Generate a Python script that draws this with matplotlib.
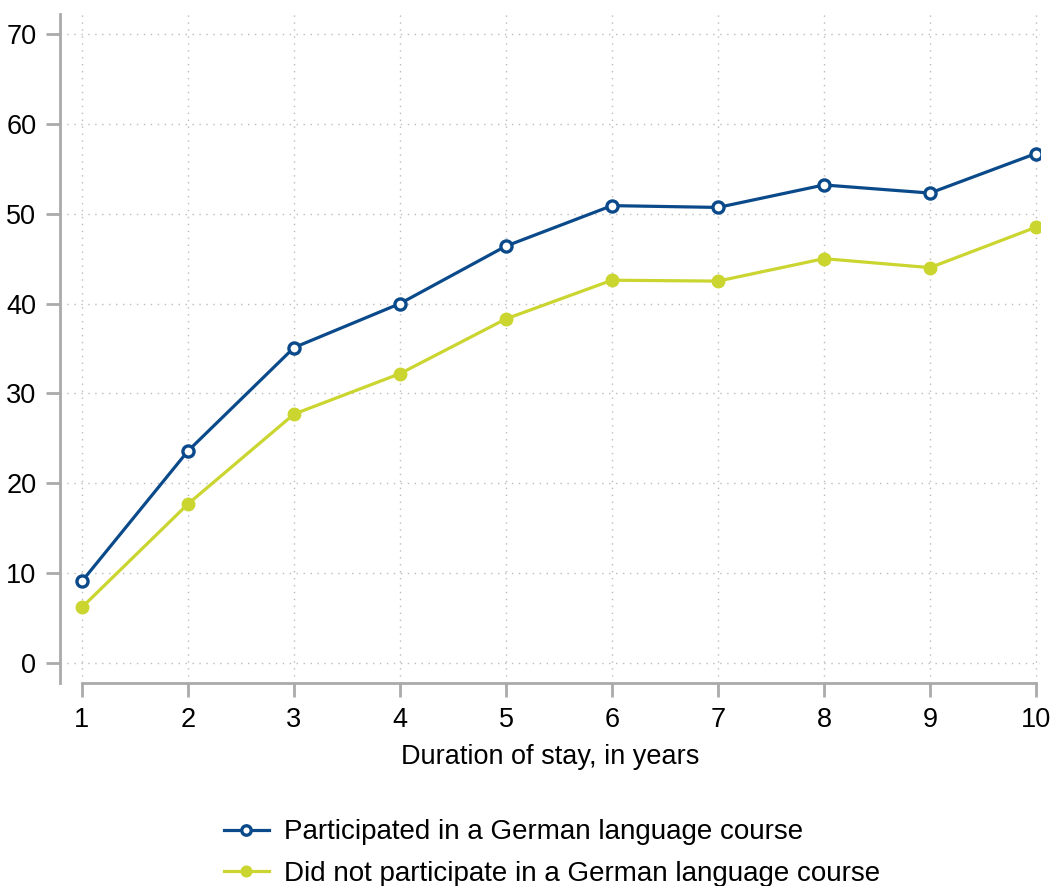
import matplotlib as mpl
mpl.use('Agg')
import matplotlib.pyplot as plt

plt.rcParams['font.family'] = ['Liberation Sans', 'DejaVu Sans']

years = [1, 2, 3, 4, 5, 6, 7, 8, 9, 10]
participated = [9.1, 23.6, 35.1, 40.0, 46.4, 50.9, 50.7, 53.2, 52.3, 56.7]
not_participated = [6.2, 17.7, 27.7, 32.2, 38.3, 42.6, 42.5, 45.0, 44.0, 48.5]
yticks = [0, 10, 20, 30, 40, 50, 60, 70]

blue = '#0a4a8a'
green = '#cbd52f'
gray = '#aaaaaa'

fig = plt.figure(figsize=(10.54, 8.86), dpi=100)
ax = fig.add_axes([60/1054, 1 - 683/886, (1040-60)/1054, (683-14)/886])

ax.plot(years, participated, color=blue, lw=2.3, marker='o', ms=8,
        mfc='white', mec=blue, mew=2.4, label='Participated in a German language course')
ax.plot(years, not_participated, color=green, lw=2.3, marker='o', ms=9,
        mfc=green, mec=green, label='Did not participate in a German language course')

ax.set_xlim(1 - 22/106, 10 + 4/106)
ax.set_ylim(-20/8.986, 70 + 20/8.986)
ax.set_xticks(years)
ax.set_yticks(yticks)

ax.grid(True, color='#bbbbbb', linestyle=(0, (1, 4)), linewidth=1)
for s in ['top', 'right']:
    ax.spines[s].set_visible(False)
for s in ['left', 'bottom']:
    ax.spines[s].set_color(gray)
    ax.spines[s].set_linewidth(2)
ax.spines['bottom'].set_bounds(1, 10)
ax.tick_params(axis='both', colors=gray, width=2, length=10, labelsize=19.5,
               labelcolor='black', pad=7)
ax.tick_params(axis='x', pad=7)
ax.set_xlabel('Duration of stay, in years', fontsize=19.5, labelpad=8)

leg = fig.legend(loc='center', bbox_to_anchor=(552/1054, 1 - 853/886), frameon=False,
                 fontsize=20, handlelength=1.6, handletextpad=0.55,
                 labelspacing=0.55, ncol=1, markerscale=0.85)

fig.savefig('out.png', dpi=100, facecolor='white')
